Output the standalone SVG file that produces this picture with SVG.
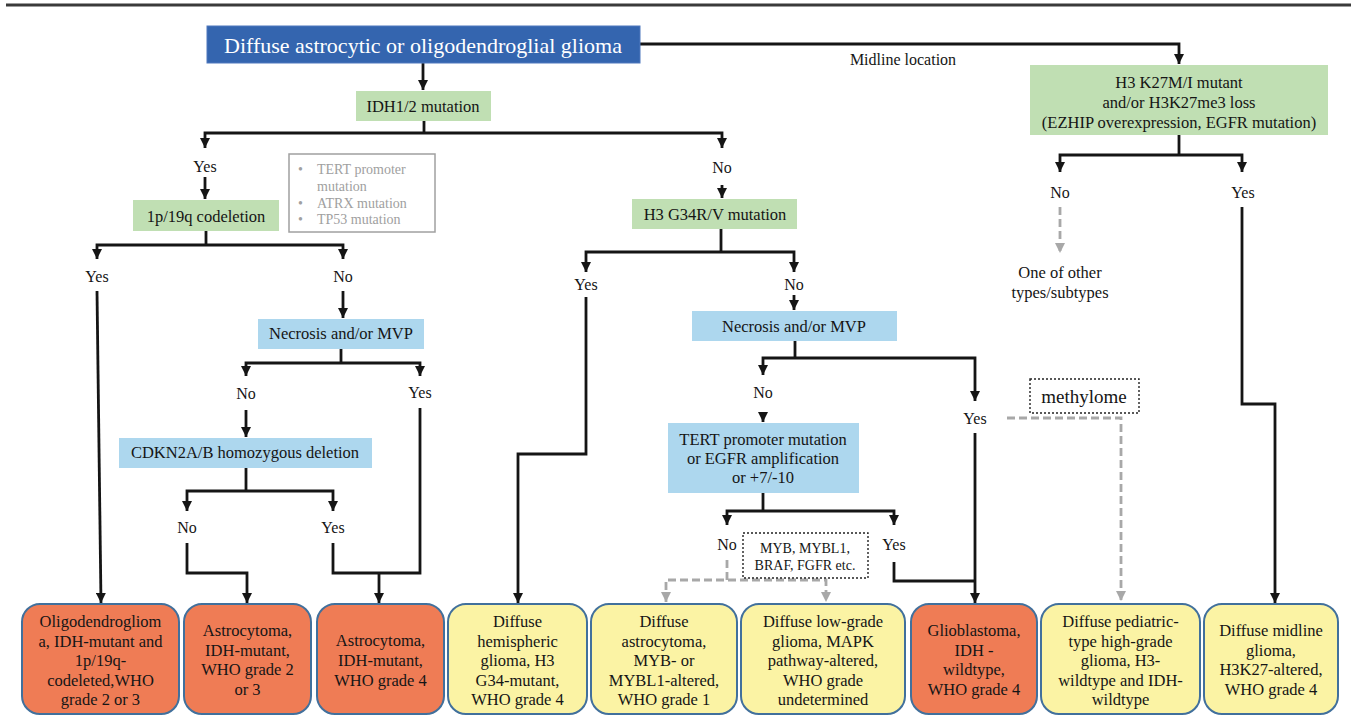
<svg xmlns="http://www.w3.org/2000/svg" width="1351" height="716" viewBox="0 0 1351 716">
<style>
.t{font-family:"Liberation Serif","Times New Roman",serif;font-size:16.5px;fill:#151515;text-anchor:middle}
.lb{font-size:16px}
.g{fill:#C0DFB3}
.b{fill:#ADD7EE}
.o{fill:#EF7C55;stroke:#41709C;stroke-width:2}
.y{fill:#FBF3A4;stroke:#41709C;stroke-width:2}
.ln{fill:none;stroke:#151515;stroke-width:2.8}
.dl{fill:none;stroke:#A8A8A8;stroke-width:2.8;stroke-dasharray:8 4}
.dot{fill:#fff;stroke:#222;stroke-width:1.4;stroke-dasharray:2 2}
.gt{fill:#A0A0A0;font-size:14px;text-anchor:start}
</style>
<defs>
<marker id="ah" markerUnits="userSpaceOnUse" viewBox="0 0 10 10" markerWidth="10" markerHeight="10" refX="10" refY="5" orient="auto-start-reverse"><path d="M0,0 L10,5 L0,10 z" fill="#151515"/></marker>
<marker id="ag" markerUnits="userSpaceOnUse" viewBox="0 0 10 10" markerWidth="10" markerHeight="10" refX="10" refY="5" orient="auto-start-reverse"><path d="M0,0 L10,5 L0,10 z" fill="#A8A8A8"/></marker>
</defs>
<rect width="1351" height="716" fill="#fff"/>
<line x1="6" y1="5" x2="1351" y2="5" stroke="#3a3a3a" stroke-width="3"/>

<g id="connectors">
<path class="ln" d="M423,63 V90" marker-end="url(#ah)"/>
<path class="ln" d="M640,44 H1179 V64" marker-end="url(#ah)"/>
<path class="ln" d="M424,121 V133"/>
<path class="ln" d="M205,148 V133 H722 V148" marker-start="url(#ah)" marker-end="url(#ah)"/>
<path class="ln" d="M205,177 V199" marker-end="url(#ah)"/>
<path class="ln" d="M722,185 V198" marker-end="url(#ah)"/>
<path class="ln" d="M206,231 V245"/>
<path class="ln" d="M97,259 V245 H343 V259" marker-start="url(#ah)" marker-end="url(#ah)"/>
<path class="ln" d="M97,291 L101,603" marker-end="url(#ah)"/>
<path class="ln" d="M343,291 V318" marker-end="url(#ah)"/>
<path class="ln" d="M341,349 V363"/>
<path class="ln" d="M246,376 V363 H420 V376" marker-start="url(#ah)" marker-end="url(#ah)"/>
<path class="ln" d="M246,410 V437" marker-end="url(#ah)"/>
<path class="ln" d="M246,468 V491"/>
<path class="ln" d="M187,511 V491 H333 V511" marker-start="url(#ah)" marker-end="url(#ah)"/>
<path class="ln" d="M187,543 V573 H247 V603" marker-end="url(#ah)"/>
<path class="ln" d="M333,543 V573 H420 V408"/>
<path class="ln" d="M379,573 V603" marker-end="url(#ah)"/>
<path class="ln" d="M721,229 V252"/>
<path class="ln" d="M586,272 V252 H794 V272" marker-start="url(#ah)" marker-end="url(#ah)"/>
<path class="ln" d="M586,297 V454 H518 V603" marker-end="url(#ah)"/>
<path class="ln" d="M794,295 V310" marker-end="url(#ah)"/>
<path class="ln" d="M795,341 V358"/>
<path class="ln" d="M763,375 V358 H975 V401" marker-start="url(#ah)" marker-end="url(#ah)"/>
<path class="ln" d="M763,412 V422" marker-end="url(#ah)"/>
<path class="ln" d="M763,493 V511"/>
<path class="ln" d="M727,525 V511 H894 V525" marker-start="url(#ah)" marker-end="url(#ah)"/>
<path class="ln" d="M894,562 V581 H975"/>
<path class="ln" d="M975,433 V603" marker-end="url(#ah)"/>
<path class="dl" d="M727,560 V580"/>
<path class="dl" d="M666,602 V580 H826 V602" marker-start="url(#ag)" marker-end="url(#ag)"/>
<path class="ln" d="M1179,135 V155"/>
<path class="ln" d="M1060,172 V155 H1242 V172" marker-start="url(#ah)" marker-end="url(#ah)"/>
<path class="dl" d="M1060,207 V253" marker-end="url(#ag)"/>
<path class="ln" d="M1242,207 V404 H1275 V603" marker-end="url(#ah)"/>
<path class="dl" d="M1007,418 H1121 V601" marker-end="url(#ag)"/>
</g>

<g id="edge-labels" class="t lb">
<text x="903" y="65">Midline location</text>
<text x="205" y="172">Yes</text>
<text x="722" y="173">No</text>
<text x="97" y="282">Yes</text>
<text x="343" y="282">No</text>
<text x="246" y="399">No</text>
<text x="420" y="398">Yes</text>
<text x="187" y="533">No</text>
<text x="333" y="533">Yes</text>
<text x="586" y="290">Yes</text>
<text x="794" y="290">No</text>
<text x="763" y="398">No</text>
<text x="975" y="424">Yes</text>
<text x="727" y="550">No</text>
<text x="894" y="550">Yes</text>
<text x="1060" y="198">No</text>
<text x="1243" y="198">Yes</text>
</g>

<g id="n-root">
<rect x="207" y="26" width="433" height="37" fill="#3465AF" stroke="#4f78bd" stroke-width="1"/>
<text class="t" x="423" y="53" style="font-size:22px;fill:#fff">Diffuse astrocytic or oligodendroglial glioma</text>
</g>
<g id="n-idh">
<rect class="g" x="356" y="91" width="135" height="30"/>
<text class="t" x="423" y="112">IDH1/2 mutation</text>
</g>
<g id="n-h3k27">
<rect class="g" x="1030" y="65" width="298" height="70"/>
<text class="t" x="1179" y="88">H3 K27M/I mutant</text>
<text class="t" x="1179" y="108">and/or H3K27me3 loss</text>
<text class="t" x="1179" y="128">(EZHIP overexpression, EGFR mutation)</text>
</g>
<g id="n-other">
<text class="t" x="1060" y="278">One of other</text>
<text class="t" x="1060" y="298">types/subtypes</text>
</g>
<g id="n-markers">
<rect x="289" y="154" width="146" height="78" fill="#fff" stroke="#A0A0A0" stroke-width="1.5"/>
<text class="t gt" x="298" y="174">•</text>
<text class="t gt" x="317" y="174">TERT promoter</text>
<text class="t gt" x="317" y="191">mutation</text>
<text class="t gt" x="298" y="208">•</text>
<text class="t gt" x="317" y="208">ATRX mutation</text>
<text class="t gt" x="298" y="224">•</text>
<text class="t gt" x="317" y="224">TP53 mutation</text>
</g>
<g id="n-1p19q">
<rect class="g" x="133" y="200" width="146" height="31"/>
<text class="t" x="206" y="222">1p/19q codeletion</text>
</g>
<g id="n-g34">
<rect class="g" x="632" y="199" width="165" height="30"/>
<text class="t" x="715" y="220">H3 G34R/V mutation</text>
</g>
<g id="n-necrosis1">
<rect class="b" x="258" y="319" width="166" height="30"/>
<text class="t" x="341" y="339">Necrosis and/or MVP</text>
</g>
<g id="n-cdkn">
<rect class="b" x="119" y="438" width="253" height="30"/>
<text class="t" x="245" y="458">CDKN2A/B homozygous deletion</text>
</g>
<g id="n-necrosis2">
<rect class="b" x="692" y="311" width="205" height="30"/>
<text class="t" x="794" y="332">Necrosis and/or MVP</text>
</g>
<g id="n-tert">
<rect class="b" x="668" y="423" width="191" height="70"/>
<text class="t" x="763" y="445">TERT promoter mutation</text>
<text class="t" x="763" y="464">or EGFR amplification</text>
<text class="t" x="763" y="483">or +7/-10</text>
</g>
<g id="n-myb">
<rect class="dot" x="743" y="533" width="125" height="45"/>
<text class="t" x="805" y="553" style="font-size:14px">MYB, MYBL1,</text>
<text class="t" x="805" y="570" style="font-size:14px">BRAF, FGFR etc.</text>
</g>
<g id="n-methylome">
<rect class="dot" x="1030" y="379" width="109" height="34"/>
<text class="t" x="1084" y="403" style="font-size:19px">methylome</text>
</g>

<g id="r-oligo">
<rect class="o" x="22" y="604" width="157" height="110" rx="18"/>
<text class="t"><tspan x="100.5" y="627">Oligodendrogliom</tspan><tspan x="100.5" y="646.5">a, IDH-mutant and</tspan><tspan x="100.5" y="666">1p/19q-</tspan><tspan x="100.5" y="685.5">codeleted,WHO</tspan><tspan x="100.5" y="705">grade 2 or 3</tspan></text>
</g>
<g id="r-astro23">
<rect class="o" x="184" y="604" width="127" height="110" rx="18"/>
<text class="t"><tspan x="247.5" y="636">Astrocytoma,</tspan><tspan x="247.5" y="655.5">IDH-mutant,</tspan><tspan x="247.5" y="675">WHO grade 2</tspan><tspan x="247.5" y="694.5">or 3</tspan></text>
</g>
<g id="r-astro4">
<rect class="o" x="317" y="604" width="127" height="110" rx="18"/>
<text class="t"><tspan x="380.5" y="646">Astrocytoma,</tspan><tspan x="380.5" y="666">IDH-mutant,</tspan><tspan x="380.5" y="686">WHO grade 4</tspan></text>
</g>
<g id="r-hemispheric">
<rect class="y" x="448" y="604" width="139" height="110" rx="18"/>
<text class="t"><tspan x="517.5" y="627">Diffuse</tspan><tspan x="517.5" y="646.5">hemispheric</tspan><tspan x="517.5" y="666">glioma, H3</tspan><tspan x="517.5" y="685.5">G34-mutant,</tspan><tspan x="517.5" y="705">WHO grade 4</tspan></text>
</g>
<g id="r-myb">
<rect class="y" x="591" y="604" width="146" height="110" rx="18"/>
<text class="t"><tspan x="664" y="627">Diffuse</tspan><tspan x="664" y="646.5">astrocytoma,</tspan><tspan x="664" y="666">MYB- or</tspan><tspan x="664" y="685.5">MYBL1-altered,</tspan><tspan x="664" y="705">WHO grade 1</tspan></text>
</g>
<g id="r-mapk">
<rect class="y" x="741" y="604" width="164" height="110" rx="18"/>
<text class="t"><tspan x="823" y="627">Diffuse low-grade</tspan><tspan x="823" y="646.5">glioma, MAPK</tspan><tspan x="823" y="666">pathway-altered,</tspan><tspan x="823" y="685.5">WHO grade</tspan><tspan x="823" y="705">undetermined</tspan></text>
</g>
<g id="r-gbm">
<rect class="o" x="911" y="604" width="126" height="110" rx="18"/>
<text class="t"><tspan x="974" y="636">Glioblastoma,</tspan><tspan x="974" y="655.5">IDH -</tspan><tspan x="974" y="675">wildtype,</tspan><tspan x="974" y="694.5">WHO grade 4</tspan></text>
</g>
<g id="r-pediatric">
<rect class="y" x="1041" y="604" width="159" height="110" rx="18"/>
<text class="t"><tspan x="1120.5" y="627">Diffuse pediatric-</tspan><tspan x="1120.5" y="646.5">type high-grade</tspan><tspan x="1120.5" y="666">glioma, H3-</tspan><tspan x="1120.5" y="685.5">wildtype and IDH-</tspan><tspan x="1120.5" y="705">wildtype</tspan></text>
</g>
<g id="r-midline">
<rect class="y" x="1204" y="604" width="134" height="110" rx="18"/>
<text class="t"><tspan x="1271" y="636">Diffuse midline</tspan><tspan x="1271" y="655.5">glioma,</tspan><tspan x="1271" y="675">H3K27-altered,</tspan><tspan x="1271" y="694.5">WHO grade 4</tspan></text>
</g>
</svg>
